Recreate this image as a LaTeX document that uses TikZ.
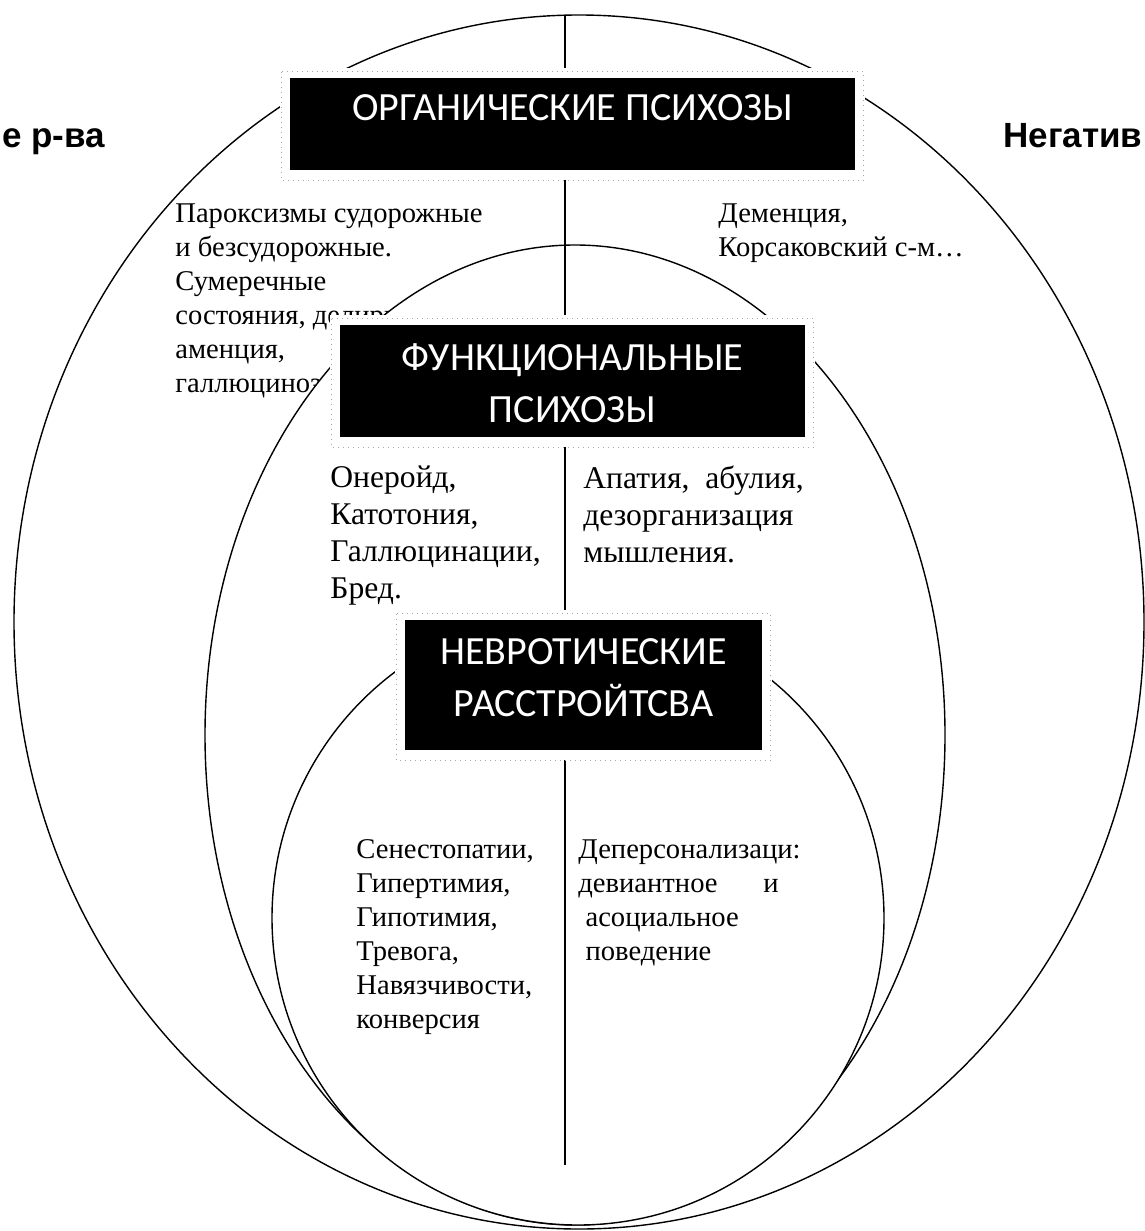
\documentclass[tikz,border=0pt]{standalone}
\usepackage{fontspec}
\setmainfont{Liberation Serif}
\newfontfamily\boxfont{Carlito}
\newfontfamily\sidefont{Liberation Sans}
\usetikzlibrary{positioning}

\begin{document}
\begin{tikzpicture}[x=0.5pt, y=-0.5pt,
    ring/.style={draw, fill=white, line width=0.7pt},
    note/.style={align=left, inner sep=0pt, anchor=north west, font=\fontsize{14.3}{17}\selectfont},
    bignote/.style={note, font=\fontsize{15.8}{18.5}\selectfont},
    side/.style={inner sep=0pt, anchor=base west, font=\sidefont\bfseries\fontsize{17.5}{20}\selectfont},
    psybox/.style={fill=black, inner sep=0pt, preaction={draw=white, line width=10pt}},
    boxtext/.style={text=white, align=center, font=\boxfont\fontsize{20}{26}\selectfont},
    frame/.style={draw=black!35, dotted, line width=0.5pt}]
    \useasboundingbox (0,0) rectangle (1145,1231);

    % Organic level
    \path[ring] (579,622) ellipse [x radius=565, y radius=607];
    \node[side] (posit) at (2,147) {е р-ва};
    \node[side] (negat) at (1003,147) {Негатив};
    \node[note] (parox) at (175,203) {Пароксизмы судорожные\\и безсудорожные.\\Сумеречные\\состояния, делирий,\\аменция,\\галлюциноз};
    \node[note] (demen) at (718,203) {Деменция,\\Корсаковский с-м…};

    % Functional level
    \path[ring] (575,735) ellipse [x radius=370, y radius=490];
    \node[bignote] (oneir) at (330,465) {Онеройд,\\Катотония,\\Галлюцинации,\\Бред.};
    \node[bignote] (apat) at (583,465) {Апатия,\ \ абулия,\\дезорганизация\\мышления.};

    % Neurotic level
    \path[ring] (578,918) ellipse [x radius=306, y radius=307];
    \node[note] (senes) at (356,839) {Сенестопатии,\\Гипертимия,\\Гипотимия,\\Тревога,\\Навязчивости,\\конверсия};
    \node[note] (depers) at (578,839) {Деперсонализаци:\\девиантное\hspace{1.6em}и\\\ асоциальное\\\ поведение};

    % Axis
    \coordinate (top) at (565,15);
    \coordinate (bot) at (565,1165);
    \draw[line width=0.7pt] (top) -- (bot);

    % Boxes
    \node[psybox, minimum width=282.5pt, minimum height=46pt,
      label={[boxtext, yshift=8pt]center:ОРГАНИЧЕСКИЕ ПСИХОЗЫ}] (org) at (572.5,124) {};
    \node[psybox, minimum width=232.5pt, minimum height=56pt,
      label={[boxtext, yshift=-1pt]center:ФУНКЦИОНАЛЬНЫЕ\\ПСИХОЗЫ}] (func) at (572.5,381) {};
    \node[psybox, minimum width=178.5pt, minimum height=65pt,
      label={[boxtext, yshift=3.5pt]center:НЕВРОТИЧЕСКИЕ\\РАССТРОЙТСВА}] (neur) at (583.5,685) {};
    \foreach \b in {org, func, neur}
      \draw[frame] ([shift={(-4pt,3pt)}]\b.north west) rectangle ([shift={(4pt,-5pt)}]\b.south east);
\end{tikzpicture}
\end{document}
